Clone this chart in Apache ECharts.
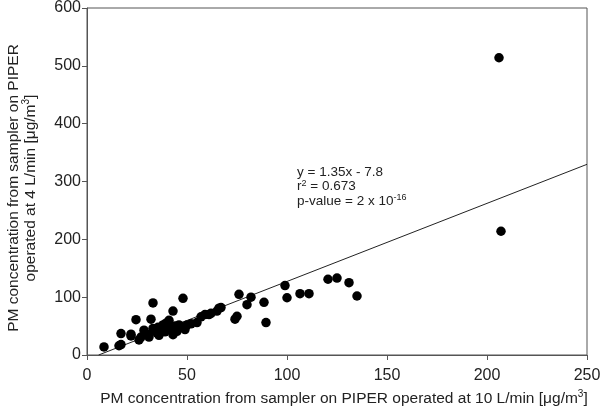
<!DOCTYPE html>
<html><head><meta charset="utf-8">
<script src="https://cdn.jsdelivr.net/npm/echarts@6/dist/echarts.min.js"></script>
<style>html,body{margin:0;padding:0;background:#fff}#c{width:600px;height:414px}</style>
</head><body><div id="c"></div>
<script>
var xTicks = [0, 50, 100, 150, 200, 250];
var yTicks = [0, 100, 200, 300, 400, 500, 600];
var points = [
 [8.5,14],[16,16],[17,18],[17,37],[22,33],[22,36],[24.5,61],[26,26],[27,31],[28.5,43],
 [29,38],[30.5,35],[31,31],[32,62],[33,46],[33,90],[34,42],[35,38],[35.5,48],[36,34],
 [37,44],[38,52],[39,40],[39.5,55],[40,48],[41,60],[42,45],[43,35],[43,76],[44,50],
 [45,41],[46,52],[47,49],[48,98],[49,44],[50,52],[52,54],[55,56],[57,66],[59,70],
 [61,70],[62,72],[65,76],[66,81],[67,82],[74,62],[75,67],[76,105],[80,87],[82,100],
 [88.5,91],[89.5,56],[99,120],[100,99],[106.5,106],[111,106],[120.5,131],[125,133],
 [131,125],[135,102],[206,514],[207,214]
];
var regLine = [[5.8,0],[250,329.7]];
var statLines = ['y = 1.35x - 7.8', 'r{sup|2} = 0.673', 'p-value = 2 x 10{sup|-16}'];

var chart = echarts.init(document.getElementById('c'));
var font = 'Liberation Sans, Arial, sans-serif';
chart.setOption({
  animation: false,
  grid: {left: 87, right: 13, top: 8, bottom: 59, show: true, borderColor: '#555', borderWidth: 1,
         containLabel: false, outerBoundsMode: 'none'},
  xAxis: {
    type: 'value', min: xTicks[0], max: xTicks[xTicks.length-1], interval: 50,
    axisLine: {show: true, lineStyle: {color: '#555'}},
    axisTick: {show: true, inside: false, length: 5, lineStyle: {color: '#555'}},
    splitLine: {show: false},
    axisLabel: {color: '#222', fontSize: 16, fontFamily: font, margin: 13},
    name: 'PM concentration from sampler on PIPER operated at 10 L/min [μg/m{sup|3}]',
    nameLocation: 'middle', nameGap: 25,
    nameTextStyle: {color: '#222', fontSize: 15.5, fontFamily: font, padding: [0,0,0,14],
      rich: {sup: {fontSize: 10, padding: [0,0,9,0], fontFamily: font, color: '#222'}}}
  },
  yAxis: {
    type: 'value', min: yTicks[0], max: yTicks[yTicks.length-1], interval: 100,
    axisLine: {show: true, lineStyle: {color: '#555'}},
    axisTick: {show: true, inside: false, length: 5, lineStyle: {color: '#555'}},
    splitLine: {show: false},
    axisLabel: {color: '#222', fontSize: 16, fontFamily: font, margin: 6},
    name: 'PM concentration from sampler on PIPER\noperated at 4 L/min [μg/m{sup|3}]',
    nameLocation: 'middle', nameGap: 48, nameRotate: 90,
    nameTextStyle: {color: '#222', fontSize: 15.5, fontFamily: font, lineHeight: 17, align: 'center',
      padding: [0,13,0,0],
      rich: {sup: {fontSize: 10, padding: [0,0,9,0], fontFamily: font, color: '#222'}}}
  },
  graphic: [{
    type: 'text', left: 297, top: 165,
    style: {
      text: statLines.join('\n'), fill: '#222', fontSize: 13.5, fontFamily: font, lineHeight: 14.5,
      rich: {sup: {fontSize: 9, padding: [0,0,7,0], fontFamily: font, fill: '#222'}}
    }
  }],
  series: [
    {type: 'line', data: regLine, symbol: 'none', lineStyle: {color: '#222', width: 1}, silent: true, z: 1},
    {type: 'scatter', data: points, symbolSize: 9.5, itemStyle: {color: '#000', opacity: 1}, z: 2}
  ]
});
</script></body></html>
